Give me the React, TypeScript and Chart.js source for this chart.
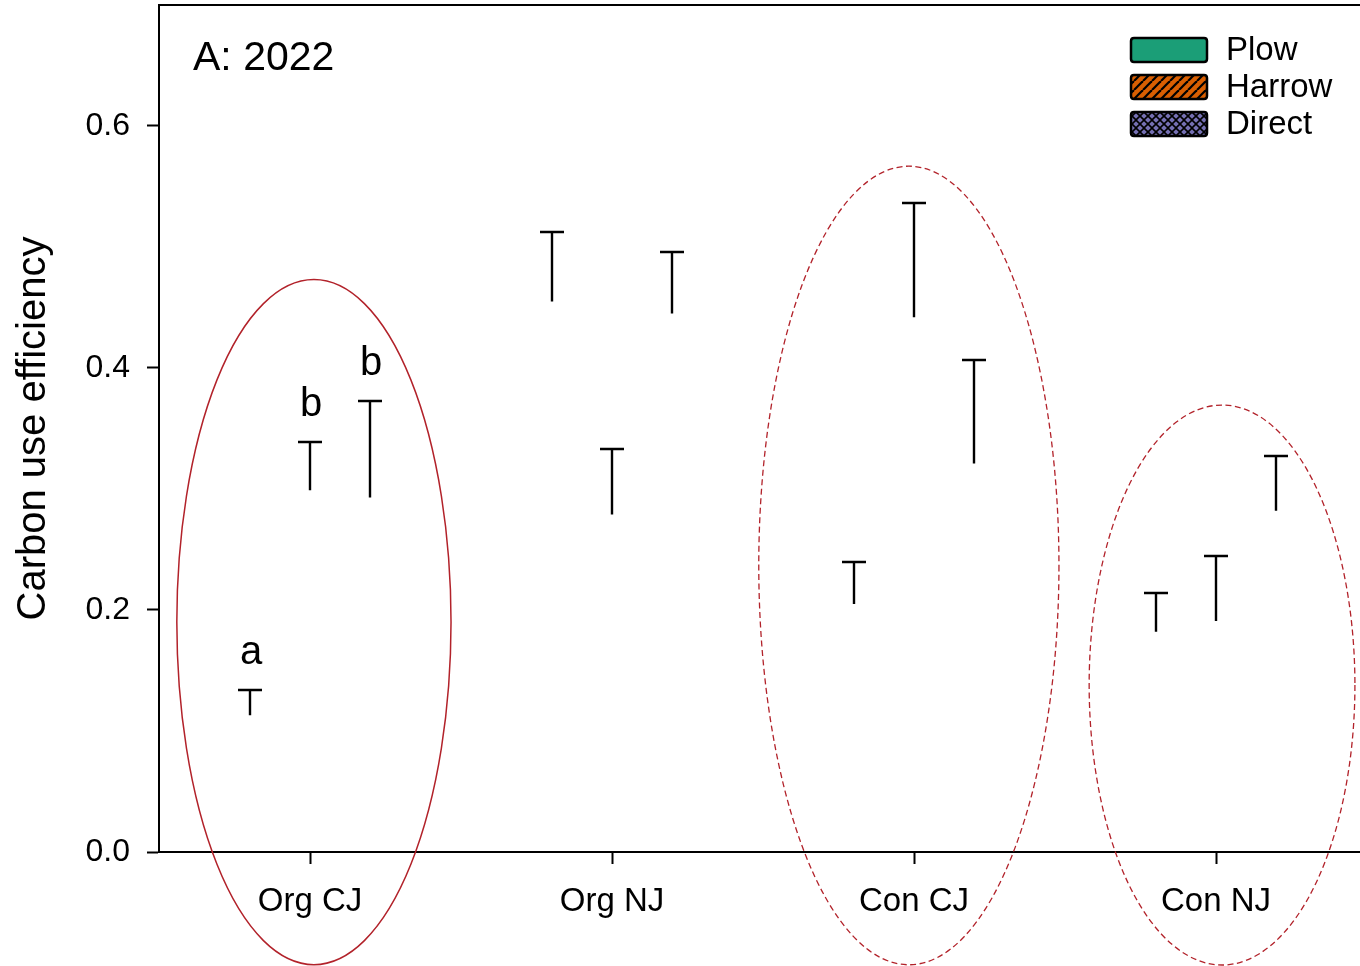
import React, { useEffect, useRef } from 'react';
import { Chart, registerables } from 'chart.js';

Chart.register(...registerables);

const CATEGORIES = ['Org CJ', 'Org NJ', 'Con CJ', 'Con NJ'];
const SERIES = ['Plow', 'Harrow', 'Direct'];
const PLOW_MEAN = [0.113, 0.455, 0.205, 0.182];
const PLOW_SE = [0.021, 0.057, 0.035, 0.032];
const HARROW_MEAN = [0.299, 0.279, 0.442, 0.191];
const HARROW_SE = [0.040, 0.054, 0.094, 0.054];
const DIRECT_MEAN = [0.293, 0.445, 0.321, 0.282];
const DIRECT_SE = [0.080, 0.051, 0.086, 0.045];
const LETTERS_ORG_CJ = ['a', 'b', 'b'];
const Y_TICKS = [0, 0.2, 0.4, 0.6];
const PANEL_TITLE = 'A: 2022';
const Y_TITLE = 'Carbon use efficiency';

// Highlight ellipses (center category index / value, radii in categories / values)
const ELLIPSE_CAT = [0.013, 1.983, 3.02];
const ELLIPSE_VAL = [0.190, 0.2368, 0.138];
const ELLIPSE_RCAT = [0.454, 0.497, 0.44];
const ELLIPSE_RVAL = [0.2831, 0.330, 0.2314];
const ELLIPSE_DASHED = [false, true, true];

const MEANS = [PLOW_MEAN, HARROW_MEAN, DIRECT_MEAN];
const ERRS = [PLOW_SE, HARROW_SE, DIRECT_SE];
const COLORS = ['#1b9e77', '#d95f02', '#7570b3'];
const FONT = '"Liberation Sans", Arial, Helvetica, sans-serif';

function makePattern(ctx: CanvasRenderingContext2D, kind: number): CanvasPattern | string {
  if (kind === 0) return COLORS[0];
  const size = kind === 1 ? 9 : 8;
  const c = document.createElement('canvas');
  c.width = size;
  c.height = size;
  const g = c.getContext('2d')!;
  g.fillStyle = COLORS[kind];
  g.fillRect(0, 0, size, size);
  g.strokeStyle = '#000';
  g.lineWidth = kind === 1 ? 2.2 : 1.6;
  const diag = (dir: number) => {
    for (let k = -1; k <= 1; k++) {
      g.beginPath();
      if (dir > 0) {
        g.moveTo(k * size, size);
        g.lineTo(k * size + size, 0);
      } else {
        g.moveTo(k * size, 0);
        g.lineTo(k * size + size, size);
      }
      g.stroke();
    }
  };
  diag(1);
  if (kind === 2) diag(-1);
  return ctx.createPattern(c, 'repeat')!;
}

function roundRect(ctx: CanvasRenderingContext2D, x: number, y: number, w: number, h: number, r: number) {
  ctx.beginPath();
  ctx.moveTo(x + r, y);
  ctx.lineTo(x + w - r, y);
  ctx.quadraticCurveTo(x + w, y, x + w, y + r);
  ctx.lineTo(x + w, y + h - r);
  ctx.quadraticCurveTo(x + w, y + h, x + w - r, y + h);
  ctx.lineTo(x + r, y + h);
  ctx.quadraticCurveTo(x, y + h, x, y + h - r);
  ctx.lineTo(x, y + r);
  ctx.quadraticCurveTo(x, y, x + r, y);
  ctx.closePath();
}

const decorPlugin = {
  id: 'decor',
  afterDatasetsDraw(chart: any) {
    const ctx: CanvasRenderingContext2D = chart.ctx;
    const y = chart.scales.y;
    ctx.save();
    ctx.strokeStyle = '#000';
    ctx.lineWidth = 2.4;
    MEANS.forEach((means, di) => {
      const meta = chart.getDatasetMeta(di);
      meta.data.forEach((bar: any, i: number) => {
        const bx = Math.round(bar.x);
        const yb = y.getPixelForValue(means[i]);
        const yt = Math.round(y.getPixelForValue(means[i] + ERRS[di][i]));
        ctx.beginPath();
        ctx.moveTo(bx, yb);
        ctx.lineTo(bx, yt - 1.2);
        ctx.moveTo(bx - 12, yt);
        ctx.lineTo(bx + 12, yt);
        ctx.stroke();
        if (i === 0) {
          ctx.fillStyle = '#000';
          ctx.font = `40px ${FONT}`;
          ctx.textAlign = 'center';
          ctx.textBaseline = 'alphabetic';
          ctx.fillText(LETTERS_ORG_CJ[di], bx + 1, yt - 26);
        }
      });
    });
    ctx.restore();
  },
  afterDraw(chart: any) {
    const ctx: CanvasRenderingContext2D = chart.ctx;
    const { left, right, top } = chart.chartArea;
    const x = chart.scales.x;
    const y = chart.scales.y;
    ctx.save();
    // top frame
    ctx.strokeStyle = '#000';
    ctx.lineWidth = 2;
    ctx.beginPath();
    ctx.moveTo(left - 1, top);
    ctx.lineTo(right + 2, top);
    ctx.stroke();

    // panel title
    ctx.fillStyle = '#000';
    ctx.font = `41px ${FONT}`;
    ctx.textAlign = 'left';
    ctx.textBaseline = 'alphabetic';
    ctx.fillText(PANEL_TITLE, left + 34, top + 65);

    // ellipses
    const catW = x.getPixelForValue(1) - x.getPixelForValue(0);
    const valH = y.getPixelForValue(0) - y.getPixelForValue(1);
    ctx.strokeStyle = '#b2222a';
    ELLIPSE_CAT.forEach((c, k) => {
      ctx.beginPath();
      ctx.lineWidth = ELLIPSE_DASHED[k] ? 1.3 : 1.5;
      ctx.setLineDash(ELLIPSE_DASHED[k] ? [6, 3.5] : []);
      ctx.ellipse(
        x.getPixelForValue(c),
        y.getPixelForValue(ELLIPSE_VAL[k]),
        ELLIPSE_RCAT[k] * catW,
        ELLIPSE_RVAL[k] * valH,
        0, 0, Math.PI * 2
      );
      ctx.stroke();
    });
    ctx.setLineDash([]);

    // legend
    const bx = 1131, bw = 76, bh = 24;
    SERIES.forEach((name, i) => {
      const cy = 50 + i * 37;
      roundRect(ctx, bx, cy - bh / 2, bw, bh, 3);
      ctx.fillStyle = makePattern(ctx, i) as any;
      ctx.fill();
      ctx.strokeStyle = '#000';
      ctx.lineWidth = 2.5;
      ctx.stroke();
      ctx.fillStyle = '#000';
      ctx.font = `33px ${FONT}`;
      ctx.textAlign = 'left';
      ctx.textBaseline = 'middle';
      ctx.fillText(name, 1226, cy + 1);
    });
    ctx.restore();
  },
};

export default function App() {
  const ref = useRef<HTMLCanvasElement>(null);
  useEffect(() => {
    const canvas = ref.current!;
    const chart = new Chart(canvas, {
      type: 'bar',
      data: {
        labels: CATEGORIES,
        datasets: SERIES.map((s, i) => ({
          label: s,
          data: MEANS[i],
          backgroundColor: 'rgba(0,0,0,0)',
          borderWidth: 0,
          categoryPercentage: 0.6,
          barPercentage: 0.8,
        })),
      },
      options: {
        responsive: false,
        animation: false,
        devicePixelRatio: 1,
        layout: { padding: { top: 5, right: 1, left: 0, bottom: 0 } },
        plugins: { legend: { display: false }, tooltip: { enabled: false } },
        scales: {
          x: {
            offset: true,
            grid: {
              display: true,
              drawOnChartArea: false,
              drawTicks: true,
              tickLength: 12,
              tickWidth: 2,
              tickColor: '#000',
              offset: false,
            },
            border: { display: true, color: '#000', width: 2 },
            ticks: { color: '#000', font: { family: FONT, size: 33 }, padding: 18, maxRotation: 0 },
            afterFit: (s: any) => { s.height = 114; s.paddingLeft = 0; s.paddingRight = 0; },
          },
          y: {
            min: 0,
            max: 0.7,
            grid: {
              display: true,
              drawOnChartArea: false,
              drawTicks: true,
              tickLength: 12,
              tickWidth: 2,
              tickColor: '#000',
            },
            border: { display: true, color: '#000', width: 2 },
            ticks: {
              color: '#000',
              font: { family: FONT, size: 32 },
              padding: 17,
              callback: (v: any) => Number(v).toFixed(1),
            },
            afterBuildTicks: (s: any) => { s.ticks = Y_TICKS.map((v) => ({ value: v })); },
            title: {
              display: true,
              text: Y_TITLE,
              color: '#000',
              font: { family: FONT, size: 40 },
              padding: { top: 10, bottom: 0 },
            },
            afterFit: (s: any) => { s.width = 159; s.paddingTop = 0; s.paddingBottom = 0; },
          },
        },
      },
      plugins: [decorPlugin],
    } as any);
    return () => chart.destroy();
  }, []);
  return (
    <div style={{ position: 'absolute', left: 0, top: 0, width: 1360, height: 966, overflow: 'hidden', background: '#fff' }}>
      <canvas ref={ref} width={1368} height={966} style={{ display: 'block', width: 1368, height: 966 }} />
    </div>
  );
}
